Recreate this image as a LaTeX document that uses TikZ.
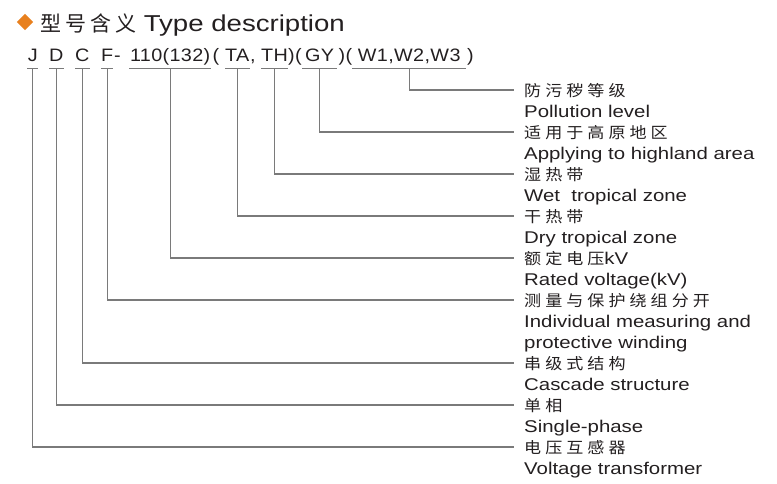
\documentclass[tikz,border=0pt]{standalone}
\usepackage{fontspec}
\setmainfont{Liberation Sans}[FakeStretch=1.2]
\newfontfamily\codfont{Liberation Sans}[FakeStretch=1.1,LetterSpace=2]
\newfontfamily\cjk{Noto Sans CJK SC}[FakeStretch=1.1,LetterSpace=26]
\newfontfamily\cjktitolo{Noto Sans CJK SC}[LetterSpace=19]
\usetikzlibrary{shapes.geometric}
\definecolor{testo}{HTML}{231F20}
\definecolor{grigio}{HTML}{7A7A7A}
\definecolor{arancio}{HTML}{E8801E}
\begin{document}
\begin{tikzpicture}[x=1pt,y=-1pt,
  codice/.style={anchor=base west,inner sep=0pt,text height=13pt,text depth=7pt,font=\fontsize{18}{21}\selectfont\codfont,text=testo},
  etichetta/.style={anchor=west,inner xsep=10pt,inner ysep=0pt,text height=12pt,text depth=0pt,font=\fontsize{17}{21}\selectfont,text=testo},
  cinese/.style={etichetta,font=\fontsize{15.5}{21}\selectfont\cjk},
  filo/.style={draw=grigio,line width=1.1pt}]
\useasboundingbox (0,0) rectangle (777,483);
% Titolo
\node[diamond,fill=arancio,minimum size=16.5pt,inner sep=0pt](rombo) at (25,22){};
\node[anchor=base west,inner sep=0pt,text=testo,font=\fontsize{23}{28}\selectfont](titolo) at (40,31)
  {{\cjktitolo\fontsize{21}{28}\selectfont 型号含义} Type description};

% Riga del codice
\node[codice,minimum width=11pt](node J) at (27,61){J};
\node[codice,minimum width=12pt](node D) at (49,61){D};
\node[codice,minimum width=12pt](node C) at (75,61){C};
\node[codice,minimum width=12pt](node F) at (101,61){F};
\node[codice](trattino) at (114,61){-};
\node[codice,minimum width=82pt](node kV) at (129,61){110(132)};
\node[codice](par a) at (212.5,61){(};
\node[codice,minimum width=24pt](node TA) at (225,61){TA};
\node[codice](virgola) at (250,61){,};
\node[codice,minimum width=25pt](node TH) at (261,61){TH};
\node[codice](par b) at (288,61){)(};
\node[codice,minimum width=35pt](node GY) at (302,61){GY};
\node[codice](par c) at (338.5,61){)(};
\node[codice,minimum width=114pt](node W) at (352,61){W1,W2,W3};
\node[codice](par d) at (467,61){)};

% Sottolineature
\draw[filo](node J.south west)--(node J.south east);
\draw[filo](node D.south west)--(node D.south east);
\draw[filo](node C.south west)--(node C.south east);
\draw[filo](node F.south west)--(node F.south east);
\draw[filo](node kV.south west)--(node kV.south east);
\draw[filo](node TA.south west)--(node TA.south east);
\draw[filo](node TH.south west)--(node TH.south east);
\draw[filo](node GY.south west)--(node GY.south east);
\draw[filo](node W.south west)--(node W.south east);

% Etichette
\node[cinese](lab W) at (514,90){防污秽等级};
\node[etichetta](en W) at (514,111){Pollution level};
\node[cinese](lab GY) at (514,132){适用于高原地区};
\node[etichetta](en GY) at (514,153){Applying to highland area};
\node[cinese](lab TH) at (514,174){湿热带};
\node[etichetta](en TH) at (514,195){Wet~~tropical zone};
\node[cinese](lab TA) at (514,216){干热带};
\node[etichetta](en TA) at (514,237){Dry tropical zone};
\node[cinese](lab kV) at (514,258){额定电压{\rmfamily\fontsize{17}{21}\selectfont kV}};
\node[etichetta](en kV) at (514,279){Rated voltage(kV)};
\node[cinese](lab F) at (514,300){测量与保护绕组分开};
\node[etichetta](en F) at (514,321){Individual measuring and};
\node[etichetta](en F2) at (514,342){protective winding};
\node[cinese](lab C) at (514,363){串级式结构};
\node[etichetta](en C) at (514,384){Cascade structure};
\node[cinese](lab D) at (514,405){单相};
\node[etichetta](en D) at (514,426){Single-phase};
\node[cinese](lab J) at (514,447){电压互感器};
\node[etichetta](en J) at (514,468){Voltage transformer};

% Linee dal codice alle etichette
\draw[filo](node W.south)|-(lab W.west);
\draw[filo](node GY.south)|-(lab GY.west);
\draw[filo](node TH.south)|-(lab TH.west);
\draw[filo](node TA.south)|-(lab TA.west);
\draw[filo](node kV.south)|-(lab kV.west);
\draw[filo](node F.south)|-(lab F.west);
\draw[filo](node C.south)|-(lab C.west);
\draw[filo](node D.south)|-(lab D.west);
\draw[filo](node J.south)|-(lab J.west);
\end{tikzpicture}
\end{document}
